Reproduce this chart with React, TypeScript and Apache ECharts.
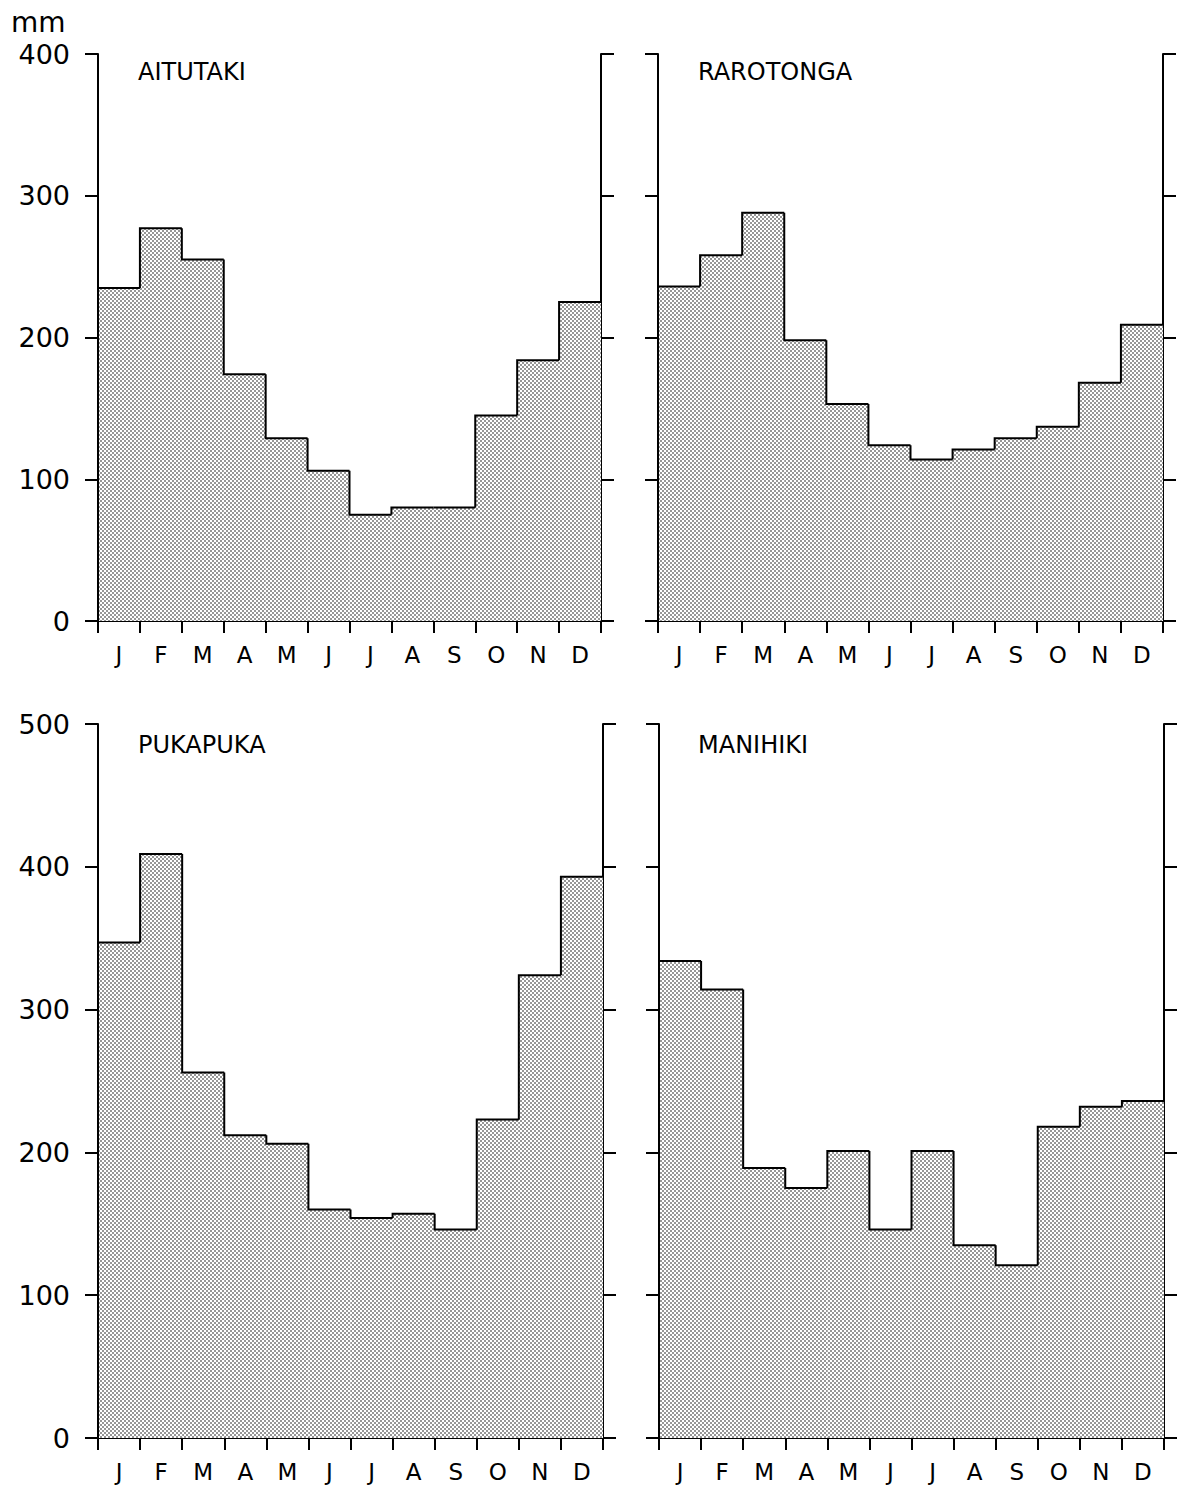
import React, { useEffect, useRef } from "react";
import * as echarts from "echarts";

const months = ["J", "F", "M", "A", "M", "J", "J", "A", "S", "O", "N", "D"];
const aitutaki = [235, 277, 255, 174, 129, 106, 75, 80, 80, 145, 184, 225];
const rarotonga = [236, 258, 288, 198, 153, 124, 114, 121, 129, 137, 168, 209];
const pukapuka = [347, 409, 256, 212, 206, 160, 154, 157, 146, 223, 324, 393];
const manihiki = [334, 314, 189, 175, 201, 146, 201, 135, 121, 218, 232, 236];
const stations = ["AITUTAKI", "RAROTONGA", "PUKAPUKA", "MANIHIKI"];
const seriesData = [aitutaki, rarotonga, pukapuka, manihiki];
const axisMax = [400, 400, 500, 500];
const unitLabel = "mm";

const FONT = "DejaVu Sans";

const grids = [
  { left: 98, top: 54, width: 503, height: 567 },
  { left: 658, top: 54, width: 505, height: 567 },
  { left: 98, top: 724, width: 505, height: 714 },
  { left: 659, top: 724, width: 505, height: 714 },
];
const showYLabels = [true, false, true, false];
const titlePos = [
  [138, 72],
  [698, 72],
  [138, 745],
  [698, 745],
];

const dotSvg =
  '<svg xmlns="http://www.w3.org/2000/svg" width="4" height="4">' +
  '<rect width="4" height="4" fill="#ffffff"/>' +
  '<circle cx="1" cy="1" r="0.8" fill="#111"/>' +
  '<circle cx="3" cy="3" r="0.8" fill="#111"/>' +
  "</svg>";
const dotUrl = "data:image/svg+xml;utf8," + encodeURIComponent(dotSvg);

export default function App() {
  const ref = useRef<HTMLDivElement>(null);
  useEffect(() => {
    if (!ref.current) return;
    const chart = echarts.init(ref.current, null, { renderer: "svg" });
    const line = { show: true, lineStyle: { color: "#000", width: 2 } };
    const xAxis: any[] = [];
    const yAxis: any[] = [];
    const series: any[] = [];
    const graphic: any[] = [];
    grids.forEach((g, k) => {
      xAxis.push({
        type: "category",
        gridIndex: k,
        data: months,
        boundaryGap: true,
        axisLine: line,
        axisTick: { show: true, length: 12, lineStyle: { color: "#000", width: 2 } },
        axisLabel: {
          show: true,
          margin: 22,
          fontSize: 23,
          fontFamily: FONT,
          color: "#000",
          interval: 0,
        },
        splitLine: { show: false },
      });
      const yBase = {
        type: "value",
        gridIndex: k,
        min: 0,
        max: axisMax[k],
        interval: 100,
        axisLine: line,
        axisTick: { show: true, length: 13, lineStyle: { color: "#000", width: 2 } },
        splitLine: { show: false },
      };
      yAxis.push({
        ...yBase,
        position: "left",
        axisLabel: {
          show: showYLabels[k],
          margin: 28,
          fontSize: 27,
          fontFamily: FONT,
          color: "#000",
        },
      });
      yAxis.push({
        ...yBase,
        position: "right",
        axisLabel: { show: false },
      });
      const data = seriesData[k];
      series.push({
        type: "bar",
        xAxisIndex: k,
        yAxisIndex: 2 * k,
        data: data,
        barCategoryGap: "0%",
        barGap: "0%",
        itemStyle: {
          color: {
            image: dotUrl,
            repeat: "repeat",
            imageWidth: 4,
            imageHeight: 4,
          },
          borderWidth: 0,
        },
        silent: true,
        z: 1,
      });
      series.push({
        type: "custom",
        xAxisIndex: k,
        yAxisIndex: 2 * k,
        data: data.map((v, i) => [i, v, i === 0 ? 0 : data[i - 1]]),
        encode: { x: 0, y: 1 },
        silent: true,
        z: 3,
        renderItem: (params: any, api: any) => {
          const i = api.value(0);
          const v = api.value(1);
          const prev = api.value(2);
          const c = api.coord([i, v]);
          const p = api.coord([i, prev]);
          const w = api.size([1, 0])[0];
          const x0 = c[0] - w / 2;
          const x1 = c[0] + w / 2;
          return {
            type: "polyline",
            shape: {
              points: [
                [x0, p[1]],
                [x0, c[1]],
                [x1, c[1]],
              ],
            },
            style: { stroke: "#000", lineWidth: 2, fill: "none" },
          };
        },
      });
      graphic.push({
        type: "text",
        x: titlePos[k][0],
        y: titlePos[k][1],
        style: {
          text: stations[k],
          fontSize: 24,
          fontFamily: FONT,
          fill: "#000",
          align: "left",
          verticalAlign: "middle",
        },
      });
    });
    graphic.push({
      type: "text",
      x: 11,
      y: 22,
      style: {
        text: unitLabel,
        fontSize: 28,
        fontFamily: FONT,
        fill: "#000",
        align: "left",
        verticalAlign: "middle",
      },
    });
    chart.setOption({
      animation: false,
      backgroundColor: "#fff",
      grid: grids.map((g) => ({ ...g, containLabel: false })),
      xAxis,
      yAxis,
      series,
      graphic,
    });
    return () => chart.dispose();
  }, []);
  return (
    <div
      ref={ref}
      style={{ position: "absolute", left: 0, top: 0, width: 1177, height: 1494 }}
    />
  );
}
